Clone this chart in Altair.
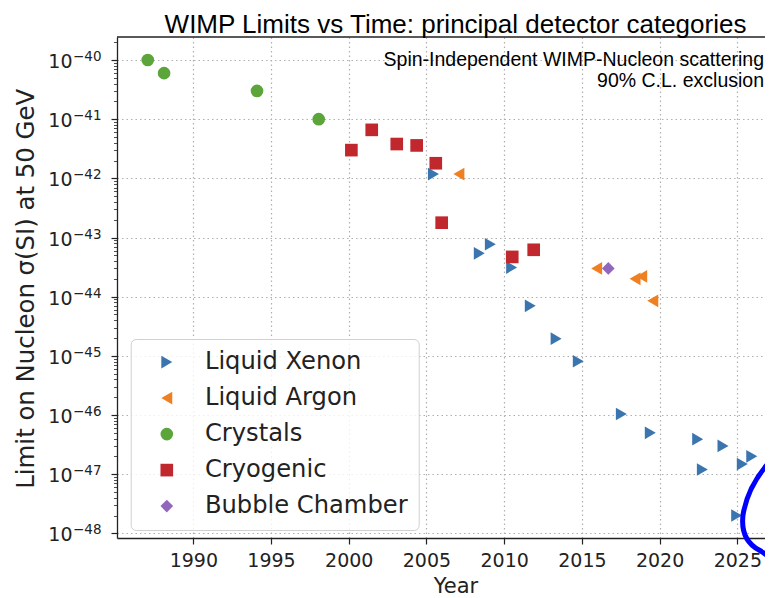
import altair as alt
import pandas as pd

# ---------------- data ----------------
categories = ["Liquid Xenon", "Liquid Argon", "Crystals", "Cryogenic", "Bubble Chamber"]

xenon_year = [2005.45, 2008.40, 2009.11, 2010.48, 2011.68, 2013.34, 2014.77, 2017.54,
              2019.40, 2022.45, 2022.75, 2024.08, 2025.32, 2025.93, 2024.96]
xenon_limit = [1.18e-42, 5.4e-44, 7.7e-44, 3.1e-44, 7.0e-45, 1.95e-45, 8.1e-46, 1.04e-46,
               5.0e-47, 3.9e-47, 1.2e-47, 3.0e-47, 1.48e-47, 2.0e-47, 2.0e-48]

argon_year = [2007.09, 2015.95, 2018.42, 2018.85, 2019.56]
argon_limit = [1.18e-42, 3.0e-44, 2.0e-44, 2.2e-44, 8.5e-45]

crystal_year = [1987.07, 1988.12, 1994.10, 1998.07]
crystal_limit = [1.0e-40, 6.0e-41, 3.0e-41, 1.0e-41]

cryo_year = [2000.17, 2001.48, 2003.09, 2004.37, 2005.60, 2005.98, 2010.52, 2011.90]
cryo_limit = [3.0e-42, 6.6e-42, 3.8e-42, 3.6e-42, 1.8e-42, 1.78e-43, 4.7e-44, 6.2e-44]

bubble_year = [2016.70]
bubble_limit = [3.0e-44]

x_ticks = [1990, 1995, 2000, 2005, 2010, 2015, 2020, 2025]
y_exponents = list(range(-48, -39))

annotation_lines = ["Spin-Independent WIMP-Nucleon scattering", "90% C.L. exclusion"]
title_text = "WIMP Limits vs Time: principal detector categories"
y_title = "Limit on Nucleon \u03c3(SI) at 50 GeV"

# ---------------- styles ----------------
colors = ["#3b75af", "#ef8022", "#5ca53b", "#c0282d", "#9167bd"]
shapes = ["triangle-right", "triangle-left", "circle", "square", "diamond"]
sizes = [160, 160, 120, 125, 260]

x_domain = [1985.091, 2026.782]
y_domain = [10 ** -48.079, 10 ** -39.611]

series = [
    (categories[0], xenon_year, xenon_limit),
    (categories[1], argon_year, argon_limit),
    (categories[2], crystal_year, crystal_limit),
    (categories[3], cryo_year, cryo_limit),
    (categories[4], bubble_year, bubble_limit),
]
rows = []
i = 0
for cat, ys, ls in series:
    for yv, lv in zip(ys, ls):
        rows.append({"year": yv, "limit": lv, "category": cat, "idx": i})
        i += 1
df = pd.DataFrame(rows)

major_values = [10.0 ** e for e in y_exponents]
minor_values = []
for e in y_exponents:
    for k in range(2, 10):
        v = k * 10.0 ** e
        if y_domain[0] <= v <= y_domain[1]:
            minor_values.append(v)

exp_expr = "'\u2212' + toString(-round(log(datum.value)/LN10))"

x_scale = alt.Scale(domain=x_domain, nice=False, zero=False)
y_scale = alt.Scale(type="log", domain=y_domain, nice=False)

x_axis = alt.Axis(
    values=x_ticks, format="d", labelFontSize=19, labelPadding=7, labelFlush=False,
    labelOverlap=False, tickSize=6, tickWidth=1.2, tickColor="#222", domainColor="#222",
    domainWidth=1.3, grid=True, gridColor="#b0b0b0", gridDash=[1.5, 3], gridWidth=1.2,
    title="Year", titleFontSize=21, titleX=338.5, titleY=54.5, titleBaseline="alphabetic",
)
# main y axis: major ticks, grid, mantissa "10"
y_axis_main = alt.Axis(
    orient="left", values=major_values, labelExpr="'10'", labelFontSize=19, labelPadding=39,
    labelOffset=1.5, labelOverlap=False, labelFlush=False,
    tickSize=6, tickWidth=1.2, tickColor="#222", domainColor="#222", domainWidth=1.3,
    grid=True, gridColor="#b0b0b0", gridDash=[1.5, 3], gridWidth=1.2,
    title=y_title, titleFontSize=24.4,
    titleX=-83.7, titleY=251.3, titleBaseline="alphabetic", titleAlign="center", titleAngle=270,
)
# exponent labels
y_axis_exp = alt.Axis(
    orient="left", values=major_values, labelExpr=exp_expr, labelFontSize=13.5,
    labelAlign="left", labelBaseline="middle", labelPadding=44.5, labelOffset=-3.5,
    labelOverlap=False, labelFlush=False, ticks=False, tickSize=0, domain=False, grid=False,
    title=None,
)
# minor ticks
y_axis_minor = alt.Axis(
    orient="left", values=minor_values, labels=False, tickSize=3.5, tickWidth=0.8,
    tickColor="#222", domain=False, grid=False, title=None,
)

legend = alt.Legend(
    title=None, orient="none", legendX=13.7, legendY=302, padding=11,
    symbolOffset=13, labelOffset=26, labelFontSize=24.2, labelFont="DejaVu Sans",
    labelColor="#222", labelLimit=400, symbolSize=150, rowPadding=11,
    fillColor="rgba(255,255,255,0.8)", strokeColor="#d0d0d0", cornerRadius=5,
    symbolStrokeWidth=0,
)

points = alt.Chart(df).mark_point(filled=True, opacity=1, strokeWidth=0).encode(
    x=alt.X("year:Q", scale=x_scale, axis=x_axis),
    y=alt.Y("limit:Q", scale=y_scale, axis=y_axis_main),
    color=alt.Color("category:N", scale=alt.Scale(domain=categories, range=colors), legend=legend),
    shape=alt.Shape("category:N", scale=alt.Scale(domain=categories, range=shapes), legend=legend),
    size=alt.Size("category:N", scale=alt.Scale(domain=categories, range=sizes), legend=None),
    order=alt.Order("idx:Q"),
)

# hand-drawn blue loop annotation (mostly outside the visible area)
loop_path = ("M 2 -54 C -12 -40 -26 -20 -30 5 C -32 22 -27 33 -14 40 "
             "C -7 44 0 50 8 58 C 60 95 120 40 100 -20 C 80 -70 20 -70 2 -54 Z")
loop_df = pd.DataFrame({"year": [2027.297], "limit": [10 ** -47.606]})
loop = alt.Chart(loop_df).mark_point(
    shape=loop_path, size=4, filled=False, color="#0000ff", strokeWidth=5, opacity=1
).encode(
    x=alt.X("year:Q", scale=x_scale),
    y=alt.Y("limit:Q", scale=y_scale, axis=y_axis_exp),
)

minor_layer = alt.Chart(loop_df).mark_point(opacity=0).encode(
    x=alt.X("year:Q", scale=x_scale),
    y=alt.Y("limit:Q", scale=y_scale, axis=y_axis_minor),
)

one = pd.DataFrame({"a": [0]})
note = alt.Chart(one).mark_text(
    text=annotation_lines, font="Liberation Sans", fontSize=19.5, align="right",
    baseline="alphabetic", lineHeight=20.7, color="black",
).encode(x=alt.value(647), y=alt.value(29))

top_spine = alt.Chart(one).mark_rule(color="#222", strokeWidth=1.3).encode(
    x=alt.value(0), x2=alt.value(648), y=alt.value(0)
)

chart = alt.layer(points, loop, minor_layer, note, top_spine).resolve_axis(
    y="independent"
).properties(
    width=648, height=501,
    title=alt.TitleParams(title_text, font="Liberation Sans", fontSize=26, fontWeight="normal",
                          color="black", anchor="middle", dx=14.5, offset=-1.2),
    autosize=alt.AutoSizeParams(type="none"),
    padding={"left": 109, "top": 29, "right": 0, "bottom": 60},
    background="white",
).configure_view(stroke=None).configure_axis(
    labelFont="DejaVu Sans", titleFont="DejaVu Sans", labelColor="#222",
    titleColor="#222", titleFontWeight="normal",
)

chart.save("out.html", embed_options={"renderer": "svg", "actions": False})
